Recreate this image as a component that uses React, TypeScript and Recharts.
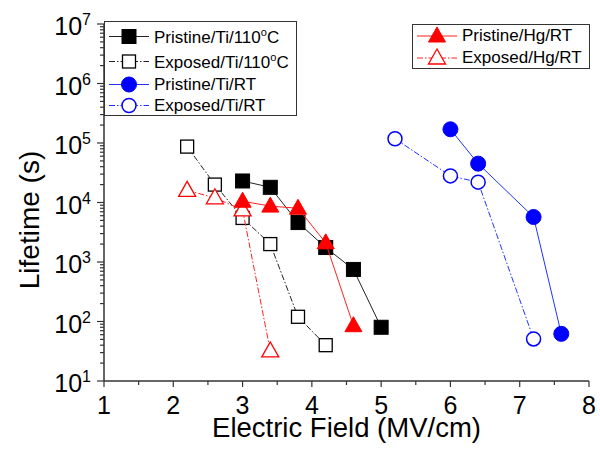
import React from "react";
import { ComposedChart, Scatter, XAxis, YAxis, Legend, Label } from "recharts";

// Electric field (MV/cm) and lifetime (s) for each device / condition
const fieldPristineTi110 = [3.0, 3.4, 3.8, 4.2, 4.6, 5.0];
const lifePristineTi110 = [23000, 18000, 4600, 1750, 750, 80];
const fieldExposedTi110 = [2.2, 2.6, 3.0, 3.4, 3.8, 4.2];
const lifeExposedTi110 = [87000, 20000, 5500, 2000, 120, 40];
const fieldPristineTiRT = [6.0, 6.4, 7.2, 7.6];
const lifePristineTiRT = [170000, 45000, 5700, 62];
const fieldExposedTiRT = [5.2, 6.0, 6.4, 7.2];
const lifeExposedTiRT = [118000, 28000, 22000, 51];
const fieldPristineHg = [3.0, 3.4, 3.8, 4.2, 4.6];
const lifePristineHg = [10500, 8700, 8000, 2100, 85];
const fieldExposedHg = [2.2, 2.6, 3.0, 3.4];
const lifeExposedHg = [16000, 12000, 7500, 32];

const xTicks = [1, 1.5, 2, 2.5, 3, 3.5, 4, 4.5, 5, 5.5, 6, 6.5, 7, 7.5, 8];
const xMajor = [1, 2, 3, 4, 5, 6, 7, 8];
const xTickLabels = ["1", "2", "3", "4", "5", "6", "7", "8"];
const yDecades = [10, 100, 1000, 10000, 100000, 1000000, 10000000];
const yExponents = ["1", "2", "3", "4", "5", "6", "7"];
const minorSteps = [2, 3, 4, 5, 6, 7, 8, 9];

const yTicks: number[] = [];
yDecades.forEach((d, i) => {
  yTicks.push(d);
  if (i < yDecades.length - 1) minorSteps.forEach((m) => yTicks.push(d * m));
});

const font = "'Liberation Sans', Arial, sans-serif";
const axisColor = "#333";

const zip = (xs: number[], ys: number[]) => xs.map((x, i) => ({ x, y: ys[i] }));

const dashDot = "6 2 1.5 2";

const series = [
  { key: "pti110", label: ["Pristine/Ti/110", "o", "C"], data: zip(fieldPristineTi110, lifePristineTi110), color: "#000", line: "#222", shape: "square", filled: true, dash: undefined, box: 0 },
  { key: "eti110", label: ["Exposed/Ti/110", "o", "C"], data: zip(fieldExposedTi110, lifeExposedTi110), color: "#000", line: "#222", shape: "square", filled: false, dash: dashDot, box: 0 },
  { key: "ptirt", label: ["Pristine/Ti/RT"], data: zip(fieldPristineTiRT, lifePristineTiRT), color: "#0000ff", line: "#2233ff", shape: "circle", filled: true, dash: undefined, box: 0 },
  { key: "etirt", label: ["Exposed/Ti/RT"], data: zip(fieldExposedTiRT, lifeExposedTiRT), color: "#0000ff", line: "#2233ff", shape: "circle", filled: false, dash: dashDot, box: 0 },
  { key: "ehg", label: ["Exposed/Hg/RT"], data: zip(fieldExposedHg, lifeExposedHg), color: "#ff0000", line: "#ff2020", shape: "triangle", filled: false, dash: dashDot, box: 1 },
  { key: "phg", label: ["Pristine/Hg/RT"], data: zip(fieldPristineHg, lifePristineHg), color: "#ff0000", line: "#ff2020", shape: "triangle", filled: true, dash: undefined, box: 1 },
];

function Marker({ shape, filled, color, cx, cy }: any) {
  const fill = filled ? color : "#fff";
  const sw = filled ? 1 : 1.3;
  if (shape === "square") {
    const s = filled ? 14 : 13;
    return <rect x={cx - s / 2} y={cy - s / 2} width={s} height={s} fill={fill} stroke={color} strokeWidth={sw} />;
  }
  if (shape === "circle") {
    return <circle cx={cx} cy={cy} r={filled ? 7.5 : 7} fill={fill} stroke={color} strokeWidth={filled ? 1 : 1.5} />;
  }
  const pts = `${cx},${cy - 9} ${cx - 8.5},${cy + 6} ${cx + 8.5},${cy + 6}`;
  return <polygon points={pts} fill={fill} stroke={color} strokeWidth={sw} />;
}

const LeftTick = ({ x, y, payload }: any) => {
  const i = yDecades.indexOf(payload.value);
  const major = i >= 0;
  return (
    <g>
      <line x1={x} x2={x - (major ? 7 : 4)} y1={y} y2={y} stroke={axisColor} strokeWidth={1.2} />
      {major && (
        <text x={x - 13} y={y + 11} textAnchor="end" fontSize={25} fill="#000" fontFamily={font}>
          10<tspan dy={-10} fontSize={16}>{yExponents[i]}</tspan>
        </text>
      )}
    </g>
  );
};

const RightTick = ({ x, y, payload }: any) => {
  const major = yDecades.indexOf(payload.value) >= 0;
  return <line x1={x} x2={x - (major ? 7 : 4)} y1={y} y2={y} stroke={axisColor} strokeWidth={1.2} />;
};

const BottomTick = ({ x, y, payload }: any) => {
  const i = xMajor.indexOf(payload.value);
  const major = i >= 0;
  return (
    <g>
      <line x1={x} x2={x} y1={y} y2={y + (major ? 6 : 4)} stroke={axisColor} strokeWidth={1.2} />
      {major && (
        <text x={x} y={y + 33} textAnchor="middle" fontSize={25} fill="#000" fontFamily={font}>
          {xTickLabels[i]}
        </text>
      )}
    </g>
  );
};

const TopTick = ({ x, y, payload }: any) => {
  const major = xMajor.indexOf(payload.value) >= 0;
  return <line x1={x} x2={x} y1={y} y2={y + (major ? 6 : 4)} stroke={axisColor} strokeWidth={1.2} />;
};

const XTitle = ({ viewBox }: any) => {
  const cx = viewBox.x + viewBox.width / 2;
  return (
    <text x={cx} y={437} textAnchor="middle" fontSize={27.5} fill="#000" fontFamily={font}>
      Electric Field (MV/cm)
    </text>
  );
};

const YTitle = () => (
  <text x={39} y={220} transform="rotate(-90 39 220)" textAnchor="middle" fontSize={28} fill="#000" fontFamily={font}>
    Lifetime (s)
  </text>
);

function LegendRow({ s, h }: any) {
  return (
    <div style={{ display: "flex", alignItems: "center", height: h }}>
      <svg width={46} height={h} style={{ flex: "none" }}>
        <line x1={4} x2={44} y1={h / 2} y2={h / 2} stroke={s.line} strokeWidth={1} strokeDasharray={s.dash} />
        <Marker shape={s.shape} filled={s.filled} color={s.color} cx={24} cy={h / 2} />
      </svg>
      <span style={{ marginLeft: 3, whiteSpace: "nowrap" }}>
        {s.label[0]}
        {s.label[1] && <sup style={{ fontSize: 11, verticalAlign: 7 }}>{s.label[1]}</sup>}
        {s.label[2]}
      </span>
    </div>
  );
}

const boxStyle: React.CSSProperties = {
  position: "absolute",
  background: "#fff",
  border: `1px solid ${axisColor}`,
  fontFamily: font,
  fontSize: 17,
  color: "#000",
  boxSizing: "border-box",
};

const renderLegend = () => (
  <div>
    <div style={{ ...boxStyle, left: 104, top: 21, width: 193, height: 95, paddingTop: 2 }}>
      {series
        .filter((s) => s.box === 0)
        .map((s) => (
          <LegendRow key={s.key} s={s} h={s.label.length > 1 ? 25 : 21} />
        ))}
    </div>
    <div style={{ ...boxStyle, left: 412, top: 24, width: 178, height: 45, paddingTop: 0 }}>
      {series
        .filter((s) => s.box === 1)
        .reverse()
        .map((s) => (
          <LegendRow key={s.key} s={s} h={22} />
        ))}
    </div>
  </div>
);

export default function App() {
  return (
    <div style={{ position: "absolute", left: 0, top: 0 }}>
      <ComposedChart width={600} height={449} margin={{ top: 24, right: 11, bottom: 0, left: 0 }}>
        <XAxis
          xAxisId="b"
          dataKey="x"
          type="number"
          domain={[1, 8]}
          ticks={xTicks}
          interval={0}
          allowDataOverflow
          height={68}
          tickSize={0}
          tickMargin={0}
          tickLine={false}
          tick={<BottomTick />}
          axisLine={{ stroke: axisColor, strokeWidth: 1.5 }}
        >
          <Label content={<XTitle />} />
        </XAxis>
        <XAxis
          xAxisId="t"
          orientation="top"
          type="number"
          domain={[1, 8]}
          ticks={xTicks}
          interval={0}
          allowDataOverflow
          height={0}
          tickSize={0}
          tickMargin={0}
          tickLine={false}
          tick={<TopTick />}
          axisLine={{ stroke: axisColor, strokeWidth: 1.5 }}
        />
        <YAxis
          yAxisId="l"
          dataKey="y"
          type="number"
          scale="log"
          domain={[10, 10000000]}
          ticks={yTicks}
          interval={0}
          allowDataOverflow
          width={104}
          tickSize={0}
          tickMargin={0}
          tickLine={false}
          tick={<LeftTick />}
          axisLine={{ stroke: axisColor, strokeWidth: 1.5 }}
        >
          <Label content={<YTitle />} />
        </YAxis>
        <YAxis
          yAxisId="r"
          orientation="right"
          type="number"
          scale="log"
          domain={[10, 10000000]}
          ticks={yTicks}
          interval={0}
          allowDataOverflow
          width={0}
          tickSize={0}
          tickMargin={0}
          tickLine={false}
          tick={<RightTick />}
          axisLine={{ stroke: axisColor, strokeWidth: 1.5 }}
        />
        {series.map((s) => (
          <Scatter
            key={s.key}
            name={s.key}
            data={s.data}
            xAxisId="b"
            yAxisId="l"
            line={{ stroke: s.line, strokeWidth: 1, strokeDasharray: s.dash }}
            lineType="joint"
            legendType="none"
            isAnimationActive={false}
            shape={(p: any) => <Marker shape={s.shape} filled={s.filled} color={s.color} cx={p.cx} cy={p.cy} />}
          />
        ))}
        <Legend
          layout="vertical"
          align="center"
          verticalAlign="middle"
          content={renderLegend}
          wrapperStyle={{ left: 0, top: 0, width: 600, height: 449, pointerEvents: "none" }}
        />
      </ComposedChart>
    </div>
  );
}
